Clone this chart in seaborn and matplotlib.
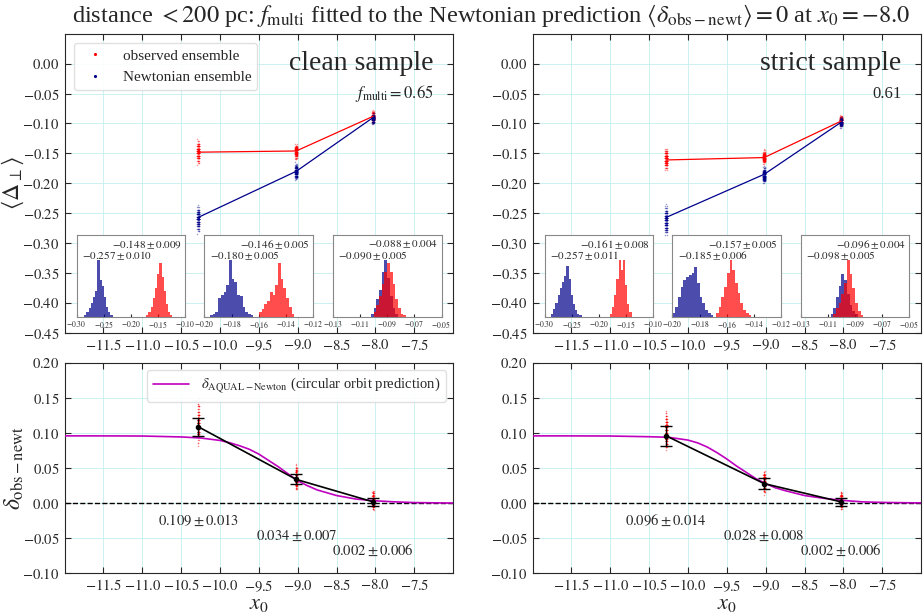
import numpy as np
import matplotlib
matplotlib.use('Agg')
import matplotlib.pyplot as plt
import seaborn as sns
from matplotlib.lines import Line2D

# positions of the three bins along x0
x0 = [-10.28, -9.02, -8.03]

# clean sample
clean_obs_mean = [-0.148, -0.146, -0.088]
clean_obs_err = [0.009, 0.005, 0.004]
clean_newt_mean = [-0.257, -0.180, -0.090]
clean_newt_err = [0.010, 0.005, 0.005]
clean_delta = [0.109, 0.034, 0.002]
clean_delta_err = [0.013, 0.007, 0.006]
clean_fmulti = '$f_{\\rm multi}=0.65$'

# strict sample
strict_obs_mean = [-0.161, -0.157, -0.096]
strict_obs_err = [0.008, 0.005, 0.004]
strict_newt_mean = [-0.257, -0.185, -0.098]
strict_newt_err = [0.011, 0.006, 0.005]
strict_delta = [0.096, 0.028, 0.002]
strict_delta_err = [0.014, 0.008, 0.006]
strict_fmulti = '0.61'

# ensemble histograms: (first edge, bin width, counts)
clean_obs_hist = [
    (-0.172, 0.004, [1, 3, 7, 13, 20, 30, 38, 28, 18, 9, 3, 1]),
    (-0.160, 0.002, [3, 5, 8, 10, 16, 14, 20, 34, 24, 18, 12, 6, 2]),
    (-0.100, 0.002, [3, 8, 14, 22, 30, 36, 30, 22, 12, 6, 2, 1]),
]
clean_newt_hist = [
    (-0.286, 0.004, [1, 3, 6, 10, 14, 18, 40, 26, 22, 14, 7, 3, 1]),
    (-0.196, 0.002, [1, 2, 3, 12, 14, 16, 20, 36, 24, 22, 14, 13, 6, 3, 2, 1]),
    (-0.102, 0.002, [2, 6, 12, 18, 30, 38, 26, 14, 6, 2]),
]
strict_obs_hist = [
    (-0.180, 0.004, [2, 6, 14, 24, 36, 30, 36, 20, 8, 3]),
    (-0.168, 0.002, [2, 6, 12, 18, 26, 34, 28, 20, 14, 8, 4, 2, 1]),
    (-0.106, 0.002, [2, 6, 10, 16, 24, 40, 30, 20, 10, 4, 1]),
]
strict_newt_hist = [
    (-0.288, 0.004, [2, 5, 9, 14, 18, 22, 26, 32, 24, 14, 8, 4, 2, 1]),
    (-0.200, 0.002, [2, 6, 12, 18, 22, 24, 25, 26, 30, 20, 12, 8, 4, 2, 1]),
    (-0.108, 0.002, [2, 6, 14, 22, 30, 26, 16, 8, 4, 2]),
]

# AQUAL - Newton circular orbit prediction
curve_x = [-12.0, -11.5, -11.0, -10.5, -10.25, -10.0, -9.875, -9.75, -9.625, -9.5, -9.375,
           -9.25, -9.125, -9.0, -8.875, -8.75, -8.5, -8.25, -8.0, -7.75, -7.5, -7.0]
clean_curve = [0.096, 0.096, 0.0958, 0.0945, 0.093, 0.0895, 0.0862, 0.082, 0.077, 0.070, 0.061,
               0.052, 0.042, 0.032, 0.025, 0.019, 0.011, 0.006, 0.0035, 0.002, 0.001, 0.0003]
strict_curve = [0.096, 0.096, 0.0958, 0.0948, 0.094, 0.090, 0.0860, 0.080, 0.072, 0.063, 0.053,
                0.044, 0.035, 0.028, 0.022, 0.018, 0.011, 0.007, 0.004, 0.002, 0.0012, 0.0005]

inset_ranges = [(-0.30, -0.10, 0.05), (-0.20, -0.12, 0.02), (-0.13, -0.05, 0.02)]


def expand(hist):
    start, width, counts = hist
    edges = start + width * np.arange(len(counts) + 1)
    centers = 0.5 * (edges[:-1] + edges[1:])
    return np.repeat(centers, counts), edges


def spread(n):
    # small horizontal smear for the ensemble clouds
    return ((np.arange(n) * 0.618) % 1 - 0.5) * 0.03


def fmt(v, d):
    s = ('%.' + str(d) + 'f') % v
    if float(s) == 0:
        s = s.lstrip('-')
    return '$' + s + '$'


sns.set_style('ticks')
plt.rcParams['font.family'] = ['Liberation Serif', 'DejaVu Serif']
plt.rcParams['mathtext.fontset'] = 'stix'
plt.rcParams['xtick.direction'] = 'in'
plt.rcParams['ytick.direction'] = 'in'
plt.rcParams['xtick.top'] = True
plt.rcParams['ytick.right'] = True

fig = plt.figure(figsize=(9.23, 6.14), dpi=100)
grid_kw = dict(color='#c4eeee', lw=0.6)
xt = np.arange(-11.5, -7.4, 0.5)

samples = [
    ('clean sample', clean_fmulti, clean_obs_mean, clean_obs_err, clean_newt_mean, clean_newt_err,
     clean_delta, clean_delta_err, clean_obs_hist, clean_newt_hist, clean_curve, 0.070),
    ('strict sample', strict_fmulti, strict_obs_mean, strict_obs_err, strict_newt_mean, strict_newt_err,
     strict_delta, strict_delta_err, strict_obs_hist, strict_newt_hist, strict_curve, 0.577),
]

for k, (name, fm, om, oe, nm, ne, dm, de, oh, nh, curve, left) in enumerate(samples):
    ax = fig.add_axes([left, 0.458, 0.421, 0.487])
    bx = fig.add_axes([left, 0.066, 0.421, 0.343])

    # ---- top panel: ensembles
    for i in range(3):
        obs, oedges = expand(oh[i])
        newt, nedges = expand(nh[i])
        sns.scatterplot(x=x0[i] + spread(len(obs)), y=obs, color='red', s=1.2, alpha=0.4,
                        linewidth=0, ax=ax, zorder=2)
        sns.scatterplot(x=x0[i] + spread(len(newt)), y=newt, color='darkblue', s=1.2, alpha=0.4,
                        linewidth=0, ax=ax, zorder=2)
        # delta ensemble from pairing the two ensembles
        paired = newt[(np.arange(len(obs)) * 7) % len(newt)]
        sns.scatterplot(x=x0[i] + spread(len(obs)) * 0.6, y=obs - paired, color='red', s=1.2,
                        alpha=0.45, linewidth=0, ax=bx, zorder=2)

        lo, hi, step = inset_ranges[i]
        ins = ax.inset_axes([[0.031, 0.36, 0.69][i], 0.054, 0.28, 0.274])
        sns.histplot(x=newt, bins=nedges, color='darkblue', alpha=0.7, element='step',
                     linewidth=0, ax=ins)
        sns.histplot(x=obs, bins=oedges, color='red', alpha=0.7, element='step',
                     linewidth=0, ax=ins)
        top = max(max(oh[i][2]), max(nh[i][2]))
        ins.set_ylim(0, top * 1.45)
        ins.set_xlim(lo, hi)
        ticks = np.arange(lo, hi + step / 2, step)
        ins.set_xticks(ticks)
        ins.set_xticklabels([fmt(v, 2) for v in ticks])
        ins.tick_params(axis='x', labelsize=5.5, length=2, top=False, pad=1.5)
        ins.set_yticks([])
        ins.set_ylabel('')
        ins.set_xlabel('')
        for sp in ins.spines.values():
            sp.set_color('#888888')
        ins.text(0.97, 0.88, '$%.3f\\pm%.3f$' % (om[i], oe[i]), transform=ins.transAxes,
                 ha='right', va='center', fontsize=8)
        ins.text(0.05, 0.74, '$%.3f\\pm%.3f$' % (nm[i], ne[i]), transform=ins.transAxes,
                 ha='left', va='center', fontsize=8)

    sns.lineplot(x=x0, y=om, color='red', lw=0.9, ax=ax, zorder=3)
    sns.lineplot(x=x0, y=nm, color='darkblue', lw=0.9, ax=ax, zorder=3)

    ax.set_xlim(-12.0, -7.0)
    ax.set_ylim(-0.45, 0.05)
    yt = np.arange(-0.45, 0.001, 0.05)
    ax.set_xticks(xt)
    ax.set_yticks(yt)
    ax.set_xticklabels([fmt(v, 1) for v in xt])
    ax.set_yticklabels([fmt(v, 2) for v in yt])
    ax.grid(True, **grid_kw)
    ax.tick_params(labelsize=10.5, length=4)
    ax.text(0.95, 0.90, name, transform=ax.transAxes, ha='right', va='center', fontsize=20)
    ax.text(0.95, 0.80, fm, transform=ax.transAxes, ha='right', va='center', fontsize=12)
    if k == 0:
        ax.set_ylabel('$\\langle\\Delta_\\perp\\rangle$', fontsize=17)
        ax.yaxis.set_label_coords(-0.1, 0.5)
        handles = [Line2D([], [], marker='.', ls='', color='red', markersize=2.5),
                   Line2D([], [], marker='.', ls='', color='darkblue', markersize=2.5)]
        ax.legend(handles, ['observed ensemble', 'Newtonian ensemble'], loc='upper left',
                  fontsize=11, framealpha=0.9, edgecolor='#dddddd', borderaxespad=0.6)
    else:
        ax.set_ylabel('')

    # ---- bottom panel: delta
    sns.lineplot(x=curve_x, y=curve, color='m', lw=1.2, ax=bx, zorder=3,
                 label='$\\delta_{\\rm AQUAL-Newton}$ (circular orbit prediction)' if k == 0 else None)
    bx.axhline(0, color='k', ls='--', lw=1, zorder=1)
    bx.errorbar(x0, dm, yerr=de, fmt='-o', color='k', ms=3, lw=1.2, capsize=4.5,
                capthick=1.0, elinewidth=1.0, zorder=4)
    for i in range(3):
        bx.text(x0[i], -0.025 - 0.021 * i, '$%.3f\\pm%.3f$' % (dm[i], de[i]),
                ha='center', va='center', fontsize=10.5)
    bx.set_xlim(-12.0, -7.0)
    bx.set_ylim(-0.10, 0.20)
    bt = np.arange(-0.10, 0.201, 0.05)
    bx.set_xticks(xt)
    bx.set_xticklabels([fmt(v, 1) for v in xt])
    bx.set_yticks(bt)
    bx.set_yticklabels([fmt(v, 2) for v in bt])
    bx.grid(True, **grid_kw)
    bx.tick_params(labelsize=10.5, length=4)
    bx.set_xlabel('$x_0$', fontsize=16, labelpad=1)
    if k == 0:
        bx.set_ylabel('$\\delta_{\\rm obs-newt}$', fontsize=17)
        bx.yaxis.set_label_coords(-0.1, 0.5)
        bx.legend(loc='upper right', fontsize=10.5, framealpha=0.9, edgecolor='#dddddd',
                  handlelength=2.5)
    else:
        bx.set_ylabel('')

fig.suptitle('distance $<200$ pc: $f_{\\rm multi}$ fitted to the Newtonian prediction '
             '$\\langle\\delta_{\\rm obs-newt}\\rangle=0$ at $x_0=-8.0$', fontsize=17.6,
             x=0.532, y=0.995)

fig.savefig('out.png', dpi=100)
